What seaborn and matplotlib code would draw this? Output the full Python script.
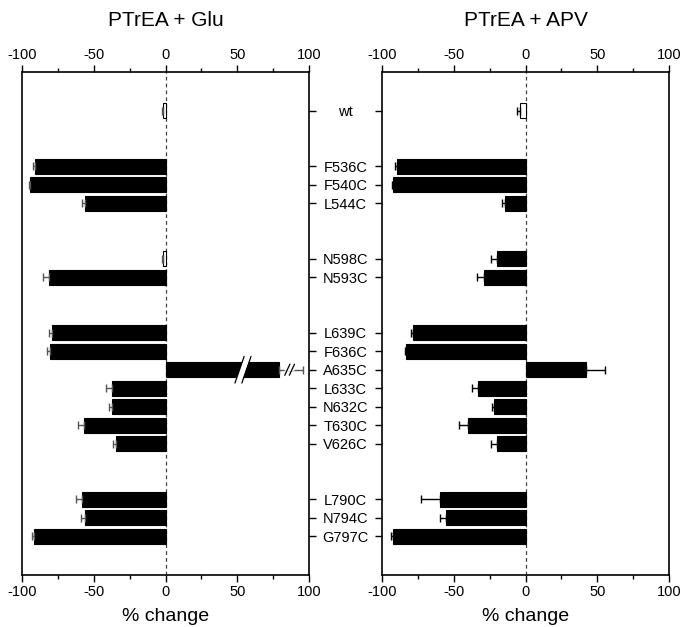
import numpy as np
import pandas as pd
import matplotlib
matplotlib.use("Agg")
import matplotlib.pyplot as plt
import seaborn as sns

# ---------------- data ----------------
mutants = ['wt', 'F536C', 'F540C', 'L544C', 'N598C', 'N593C', 'L639C', 'F636C',
           'A635C', 'L633C', 'N632C', 'T630C', 'V626C', 'L790C', 'N794C', 'G797C']
groups = [0, 1, 1, 1, 2, 2, 3, 3, 3, 3, 3, 3, 3, 4, 4, 4]

glu_values = [-1.5, -90.8, -94.3, -56.4, -1.5, -81.5, -79.2, -80.8,
              79.0, -37.4, -37.2, -57.1, -34.4, -58.0, -56.2, -91.5]
glu_err = [1.0, 1.7, 1.0, 1.9, 0.8, 4.0, 2.3, 1.9,
           16.7, 3.9, 2.3, 3.7, 2.3, 4.7, 2.8, 1.5]
glu_open = [True, False, False, False, True, False, False, False,
            False, False, False, False, False, False, False, False]

apv_values = [-3.5, -89.4, -91.8, -14.1, -19.5, -29.2, -77.9, -83.0,
              42.2, -33.1, -21.6, -40.3, -19.9, -59.3, -55.1, -91.8]
apv_err = [2.5, 1.2, 1.1, 1.9, 4.4, 4.2, 1.4, 0.9,
           13.4, 4.2, 1.8, 5.6, 4.0, 13.2, 4.2, 1.8]
apv_open = [True, False, False, False, False, False, False, False,
            False, False, False, False, False, False, False, False]

titles = ['PTrEA + Glu', 'PTrEA + APV']
xlabel = '% change'
xticks = [-100, -50, 0, 50, 100]
minor_xticks = [-75, -25, 25, 75]
broken_mutant = 'A635C'   # off-scale bar in the Glu panel

# ---------------- style ----------------
sns.set_theme(style='ticks')
plt.rcParams['font.family'] = ['Liberation Sans', 'DejaVu Sans']
plt.rcParams['axes.unicode_minus'] = False
plt.rcParams['text.color'] = 'black'
plt.rcParams['axes.labelcolor'] = 'black'
plt.rcParams['xtick.color'] = 'black'
plt.rcParams['ytick.color'] = 'black'
plt.rcParams['xtick.labelcolor'] = 'black'
plt.rcParams['ytick.labelcolor'] = 'black'

W, H = 682, 627
fig = plt.figure(figsize=(W / 100, H / 100), dpi=100)

top_px, bot_px = 72, 575
ax_h = (bot_px - top_px) / H
ax_b = 1 - bot_px / H
axL = fig.add_axes([22 / W, ax_b, (309 - 22) / W, ax_h])
axR = fig.add_axes([381.7 / W, ax_b, (669.3 - 381.7) / W, ax_h])

positions = [i + 2 * g for i, g in enumerate(groups)]


def draw_panel(ax, values, errs, opens, err_color):
    df = pd.DataFrame({
        'mutant': mutants,
        'pos': positions,
        'value': values,
        'style': ['open' if o else 'filled' for o in opens],
    })
    sns.barplot(data=df, x='value', y='pos', hue='style',
                palette={'open': 'white', 'filled': 'black'},
                orient='h', native_scale=True, dodge=False, width=0.82,
                edgecolor='black', linewidth=0.8, legend=False,
                errorbar=None, ax=ax, zorder=3)
    v = np.array(values)
    e = np.array(errs)
    lower = np.where(v < 0, e, 0)
    upper = np.where(v >= 0, e, 0)
    ax.errorbar(v, positions, xerr=[lower, upper], fmt='none',
                ecolor=err_color, elinewidth=1.0, capsize=3, capthick=1.0,
                zorder=4)
    ax.axvline(0, color='#444444', lw=0.9, ls=(0, (3, 2.5)), zorder=2)

    ax.set_xlim(-100, 100)
    ax.set_ylim(25.1, -2.1)
    ax.set_xticks(xticks)
    ax.set_xticks(minor_xticks, minor=True)
    ax.tick_params(axis='x', which='both', top=True, bottom=True,
                   labeltop=True, labelbottom=True, direction='out',
                   labelsize=10.5, color='black', width=1.0)
    ax.tick_params(axis='x', which='major', length=5, pad=2)
    ax.tick_params(axis='x', which='minor', length=3)
    ax.set_xlabel(xlabel, fontsize=14, labelpad=7)
    ax.set_ylabel('')
    ax.set_yticks(positions)
    for s in ax.spines.values():
        s.set_visible(True)
        s.set_linewidth(1.2)
        s.set_color('black')
    ax.set_facecolor('white')


draw_panel(axL, glu_values, glu_err, glu_open, '#555555')
draw_panel(axR, apv_values, apv_err, apv_open, 'black')

# left panel: ticks on the right spine, no labels
axL.yaxis.tick_right()
axL.set_yticklabels([])
axL.tick_params(axis='y', which='major', right=True, left=False,
                length=5, width=1.0, direction='out', color='black')

# right panel: ticks on left spine, labels centred between panels
axR.set_yticklabels(mutants, ha='center')
axR.tick_params(axis='y', which='major', left=True, right=False,
                length=5, width=1.0, direction='out', color='black',
                labelsize=10.5, pad=21)

# titles
fig.text(165.5 / W, 1 - 20 / H, titles[0], ha='center', va='center', fontsize=15)
fig.text(526 / W, 1 - 20 / H, titles[1], ha='center', va='center', fontsize=15)

# axis-break marks on the off-scale bar
bi = mutants.index(broken_mutant)
by = positions[bi]
bval = glu_values[bi]
brk_x = 54
dx = 3.2
axL.plot([brk_x - dx, brk_x + dx], [by + 0.72, by - 0.72],
         color='white', lw=4.5, zorder=5, solid_capstyle='butt')
for off in (-2.4, 2.4):
    axL.plot([brk_x - dx + off, brk_x + dx + off], [by + 0.72, by - 0.72],
             color='black', lw=0.9, zorder=6)
# break marks on the error line beyond the bar
bx2 = bval + 7.5
axL.plot([bx2 - 2.5, bx2 + 2.5], [by - 0.05, by - 0.05], color='white', lw=3, zorder=5)
for off in (-1.6, 1.6):
    axL.plot([bx2 - 1.8 + off, bx2 + 1.8 + off], [by + 0.3, by - 0.3],
             color='black', lw=0.9, zorder=6)

fig.savefig('out.png', dpi=100, facecolor='white')
